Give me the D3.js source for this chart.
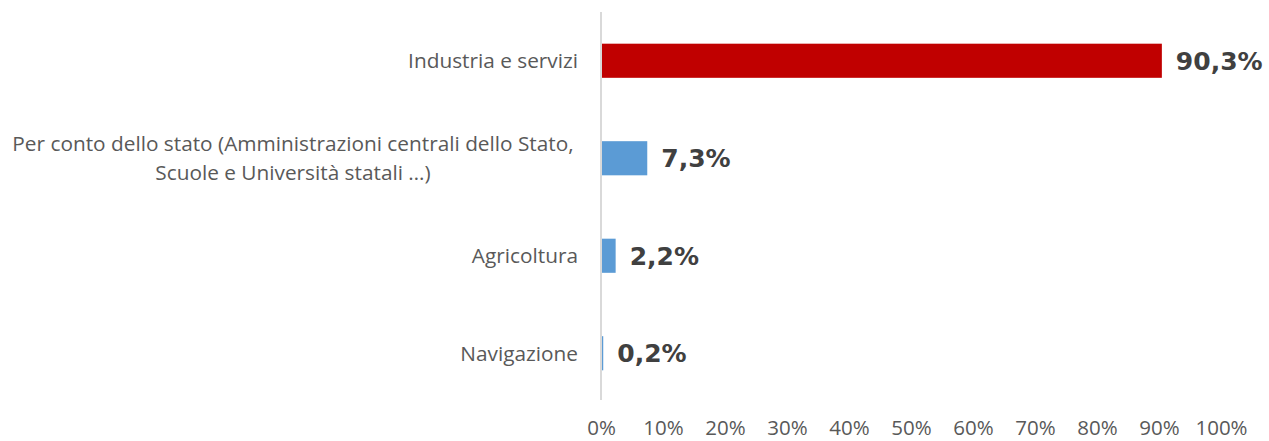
<!DOCTYPE html>
<html>
<head>
<meta charset="utf-8">
<script src="https://cdn.jsdelivr.net/npm/d3@7"></script>
<style>
  body { margin: 0; background: #fff; }
  svg { display: block; }
</style>
</head>
<body>
<div id="chart"></div>
<script>
// data
const categories = [
  ['Industria e servizi'],
  ['Per conto dello stato (Amministrazioni centrali dello Stato,', 'Scuole e Università statali …)'],
  ['Agricoltura'],
  ['Navigazione']
];
const values = [0.903, 0.073, 0.022, 0.002];
const valueLabels = ['90,3%', '7,3%', '2,2%', '0,2%'];
const barColors = ['#c00000', '#5b9bd5', '#5b9bd5', '#5b9bd5'];
const ticks = [0, 0.1, 0.2, 0.3, 0.4, 0.5, 0.6, 0.7, 0.8, 0.9, 1];

const width = 1269, height = 441;
const labelFont = "Open Sans, 'Noto Sans', sans-serif";

const svg = d3.select('#chart').append('svg')
  .attr('width', width)
  .attr('height', height);

const x = d3.scaleLinear().domain([0, 1]).range([601, 1221]);
const y = d3.scaleBand()
  .domain(d3.range(categories.length))
  .range([12, 402])
  .paddingInner(0.65)
  .paddingOuter(0.325);

// bars
svg.selectAll('rect.bar')
  .data(values)
  .join('rect')
    .attr('class', 'bar')
    .attr('x', x(0) + 1)
    .attr('y', (d, i) => y(i))
    .attr('width', d => Math.max(0, x(d) - x(0)))
    .attr('height', y.bandwidth())
    .attr('fill', (d, i) => barColors[i]);

// vertical axis line
svg.append('line')
  .attr('x1', x(0)).attr('x2', x(0))
  .attr('y1', 12).attr('y2', 400)
  .attr('stroke', '#d9d9d9')
  .attr('stroke-width', 2);

// category labels
const cat = svg.selectAll('text.cat')
  .data(categories)
  .join('text')
    .attr('class', 'cat')
    .attr('font-family', labelFont)
    .attr('font-size', '20.8px')
    .attr('fill', '#595959');

cat.each(function(lines, i) {
  const cy = y(i) + y.bandwidth() / 2;
  const t = d3.select(this);
  if (lines.length === 1) {
    t.attr('text-anchor', 'end').attr('x', 578).attr('y', cy).attr('dy', '0.35em').text(lines[0]);
  } else {
    const lh = 29;
    t.attr('text-anchor', 'middle');
    lines.forEach((ln, k) => {
      t.append('tspan')
        .attr('x', 293)
        .attr('y', cy + (k - (lines.length - 1) / 2) * lh)
        .attr('dy', '0.35em')
        .text(ln);
    });
  }
});

// value labels
svg.selectAll('text.val')
  .data(values)
  .join('text')
    .attr('class', 'val')
    .attr('x', d => x(d) + 15)
    .attr('y', (d, i) => y(i) + y.bandwidth() / 2)
    .attr('dy', '0.36em')
    .attr('font-family', "'DejaVu Sans', Verdana, sans-serif")
    .attr('font-weight', 'bold')
    .attr('font-size', '25px')
    .attr('fill', '#404040')
    .text((d, i) => valueLabels[i]);

// x tick labels
const xAxis = svg.append('g')
  .attr('transform', 'translate(0,420)')
  .call(d3.axisBottom(x).tickValues(ticks).tickFormat(d => Math.round(d * 100) + '%').tickSize(0));
xAxis.select('.domain').remove();
xAxis.selectAll('text')
  .attr('font-family', labelFont)
  .attr('font-size', '20.5px')
  .attr('fill', '#595959')
  .attr('dy', '0.35em')
  .attr('y', 8);
</script>
</body>
</html>
